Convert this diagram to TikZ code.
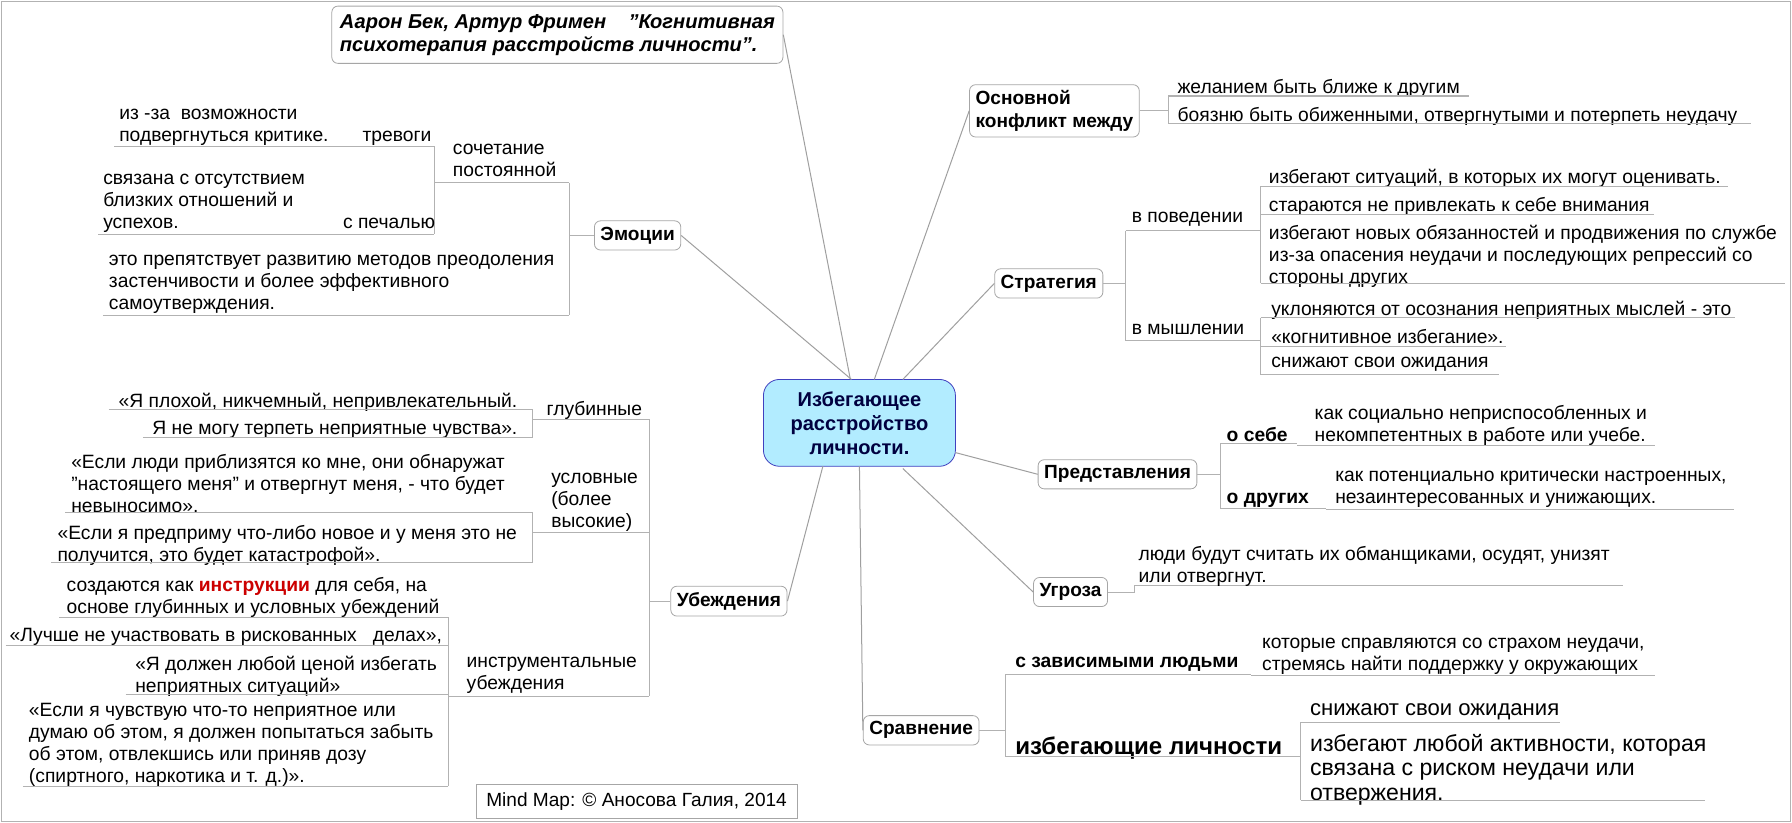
\documentclass[tikz,border=0pt]{standalone}
\usepackage{fontspec}
\setmainfont{Liberation Sans}
\begin{document}
\begin{tikzpicture}[x=0.02cm,y=-0.02cm,
 txt/.style={anchor=north west,inner sep=0pt,yshift=-3*0.02cm,align=left,font=\fontsize{9.6}{10.9}\selectfont},
 txtr/.style={txt,anchor=north east,align=right},
 br/.style={draw=gray!70,rounded corners=3pt,fill=white,font=\fontsize{9.5}{11}\selectfont\bfseries,inner sep=3pt},
 ln/.style={draw=gray!75,line width=0.5pt},
 ul/.style={draw=gray!60,line width=0.5pt}]
\useasboundingbox (0,0) rectangle (1568,720);
\draw[gray!60] (1,1) rectangle (1567,719);
% center
\node[draw=blue!50!gray,fill=blue!25!cyan!30,rounded corners=8pt,minimum width=168*0.02cm,minimum height=76*0.02cm,align=center,font=\fontsize{10}{12}\selectfont\bfseries,text=blue!25!black] (c) at (752,370) {Избегающее\\расстройство\\личности.};
% title
\node[draw=gray!70,rounded corners=3pt,fill=white,align=left,font=\fontsize{10}{11.5}\selectfont\bfseries\itshape,anchor=north west,inner sep=4pt] (title) at (290,5) {Аарон Бек, Артур Фримен \ \ \ \char"22Когнитивная\\психотерапия расстройств личности\char"22.};
\draw[ln] (c.north) ++(-8,0) -- (title.east);
% branches
\node[br,align=left,anchor=west] (konf) at (848,97) {Основной\\конфликт между};
\node[br,anchor=west] (strat) at (870,248) {Стратегия};
\node[br,anchor=west] (pred) at (908,415) {Представления};
\node[br,anchor=west] (ugr) at (904,518) {Угроза};
\node[br,anchor=west] (srav) at (755,639) {Сравнение};
\node[br,anchor=east] (emo) at (596,206) {Эмоции};
\node[br,anchor=east] (ub) at (689,526) {Убеждения};
\coordinate (c1) at (765,332); \coordinate (c2) at (790,332); \coordinate (c3) at (836,396);
\coordinate (c4) at (790,410); \coordinate (c5) at (752,408); \coordinate (c6) at (745,332); \coordinate (c7) at (720,408);
\draw[ln] (c1) -- (konf.west); \draw[ln] (c2) -- (strat.west); \draw[ln] (c3) -- (pred.west);
\draw[ln] (c4) -- (ugr.west); \draw[ln] (c5) -- (srav.west); \draw[ln] (c6) -- (emo.east); \draw[ln] (c7) -- (ub.east);
% konflikt
\draw[ul] (konf.east) -- (1022,97); \draw[ul] (1022,84) -- (1022,108);
\node[txt] (k1) at (1030,66) {желанием быть ближе к другим}; \draw[ul] (1022,84) -- (1285,84);
\node[txt] (k2) at (1030,91) {боязню быть обиженными, отвергнутыми и потерпеть неудачу}; \draw[ul] (1022,108) -- (1532,108);
% strategia
\draw[ul] (strat.east) -- (985,248); \draw[ul] (985,202) -- (985,298);
\node[txt] (s1) at (990,182) {в поведении}; \draw[ul] (985,202) -- (1103,202);
\draw[ul] (1103,163) -- (1103,248);
\node[txt] (s11) at (1110,145) {избегают ситуаций, в которых их могут оценивать.}; \draw[ul] (1103,163) -- (1512,163);
\node[txt] (s12) at (1110,169) {стараются не привлекать к себе внимания}; \draw[ul] (1103,188) -- (1447,188);
\node[txt] (s13) at (1110,194) {избегают новых обязанностей и продвижения по службе\\из-за опасения неудачи и последующих репрессий со\\стороны других}; \draw[ul] (1103,248) -- (1562,248);
\node[txt] (s2) at (990,280) {в мышлении}; \draw[ul] (985,298) -- (1103,298);
\draw[ul] (1103,278) -- (1103,328);
\node[txt] (s21) at (1112,260) {уклоняются от осознания неприятных мыслей - это}; \draw[ul] (1103,278) -- (1518,278);
\node[txt] (s22) at (1112,285) {«когнитивное избегание».}; \draw[ul] (1103,303) -- (1318,303);
\node[txt] (s23) at (1112,309) {снижают свои ожидания}; \draw[ul] (1103,328) -- (1312,328);
% predstavlenia
\draw[ul] (pred.east) -- (1068,415); \draw[ul] (1068,388) -- (1068,445);
\node[txt,font=\fontsize{9.6}{10.9}\selectfont\bfseries] (p1) at (1073,371) {о себе}; \draw[ul] (1068,388) -- (1135,388);
\node[txt] (p11) at (1150,351) {как социально неприспособленных и\\некомпетентных в работе или учебе.}; \draw[ul] (1135,390) -- (1448,390);
\node[txt,font=\fontsize{9.6}{10.9}\selectfont\bfseries] (p2) at (1073,428) {о других}; \draw[ul] (1068,445) -- (1160,445);
\node[txt] (p21) at (1168,409) {как потенциально критически настроенных,\\незаинтересованных и унижающих.}; \draw[ul] (1160,446) -- (1517,446);
% ugroza
\draw[ul] (ugr.east) -- (993,518) -- (993,512) -- (1420,512);
\node[txt] (u1) at (996,475) {люди будут считать их обманщиками, осудят, унизят\\или отвергнут.};
% sravnenie
\draw[ul] (srav.east) -- (880,639); \draw[ul] (880,590) -- (880,662);
\node[txt,font=\fontsize{9.6}{10.9}\selectfont\bfseries] (r1) at (888,572) {с зависимыми людьми}; \draw[ul] (880,590) -- (1095,590);
\node[txt] (r11) at (1104,555) {которые справляются со страхом неудачи,\\стремясь найти поддержку у окружающих}; \draw[ul] (1095,591) -- (1448,591);
\node[txt,font=\fontsize{12}{14}\selectfont\bfseries] (r2) at (888,641) {избегающие личности}; \draw[ul] (880,662) -- (1138,662);
\draw[ul] (1138,632) -- (1138,700);
\node[txt,font=\fontsize{11}{12}\selectfont] (r21) at (1146,612) {снижают свои ожидания}; \draw[ul] (1138,632) -- (1365,632);
\node[txt,font=\fontsize{11.5}{12.2}\selectfont] (r22) at (1146,639) {избегают любой активности, которая\\связана с риском неудачи или\\отвержения.}; \draw[ul] (1138,700) -- (1492,700);
% emocii
\draw[ul] (emo.west) -- (498,206); \draw[ul] (498,160) -- (498,276);
\node[txt] (e1) at (396,123) {сочетание\\постоянной}; \draw[ul] (380,160) -- (498,160);
\draw[ul] (380,128) -- (380,205);
\node[txt] (e11) at (104,92) {из -за \ возможности\\подвергнуться критике. \ \ \ \ \ тревоги}; \draw[ul] (100,128) -- (380,128);
\node[txt] (e12) at (90,149) {связана с отсутствием\\близких отношений и\\успехов. \hspace{2.75cm}с печалью}; \draw[ul] (86,205) -- (380,205);
\node[txt] (e2) at (95,220) {это препятствует развитию методов преодоления\\застенчивости и более эффективного\\самоутверждения.}; \draw[ul] (90,276) -- (498,276);
% ubezhdenia
\draw[ul] (ub.west) -- (568,526); \draw[ul] (568,367) -- (568,609);
\node[txt] (b1) at (478,348) {глубинные}; \draw[ul] (466,367) -- (568,367);
\draw[ul] (466,358) -- (466,383);
\node[txtr] (b11) at (453,341) {«Я плохой, никчемный, непривлекательный.}; \draw[ul] (95,358) -- (466,358);
\node[txtr] (b12) at (453,365) {Я не могу терпеть неприятные чувства».}; \draw[ul] (125,383) -- (466,383);
\node[txt] (b2) at (482,411) {условные\\(более\\высокие)}; \draw[ul] (466,466) -- (568,466);
\draw[ul] (466,448) -- (466,492);
\node[txt] (b21) at (62,394) {«Если люди приблизятся ко мне, они обнаружат\\\char"22настоящего меня\char"22{} и отвергнут меня, - что будет\\невыносимо».}; \draw[ul] (57,448) -- (466,448);
\node[txt] (b22) at (50,456) {«Если я предприму что-либо новое и у меня это не\\получится, это будет катастрофой».}; \draw[ul] (45,492) -- (466,492);
\node[txt] (b3) at (408,572) {инструментальные\\убеждения}; \draw[ul] (392,609) -- (568,609);
\draw[ul] (392,540) -- (392,688);
\node[txt] (b31) at (58,502) {создаются как {\bfseries\color{red!80!black}инструкции} для себя, на\\основе глубинных и условных убеждений}; \draw[ul] (52,540) -- (392,540);
\node[txt] (b32) at (8,546) {«Лучше не участвовать в рискованных \ \ делах»,}; \draw[ul] (5,565) -- (392,565);
\node[txt] (b33) at (118,571) {«Я должен любой ценой избегать\\неприятных ситуаций»}; \draw[ul] (110,608) -- (392,608);
\node[txt] (b34) at (25,612) {«Если я чувствую что-то неприятное или\\думаю об этом, я должен попытаться забыть\\об этом, отвлекшись или приняв дозу\\(спиртного, наркотика и т. д.)».}; \draw[ul] (20,688) -- (392,688);
% footer
\node[draw=gray!70,fill=white,inner sep=4pt,font=\fontsize{9.5}{11}\selectfont,minimum width=281*0.02cm,minimum height=27*0.02cm] (foot) at (557,701) {Mind Map: © Аносова Галия, 2014};
\end{tikzpicture}
\end{document}
